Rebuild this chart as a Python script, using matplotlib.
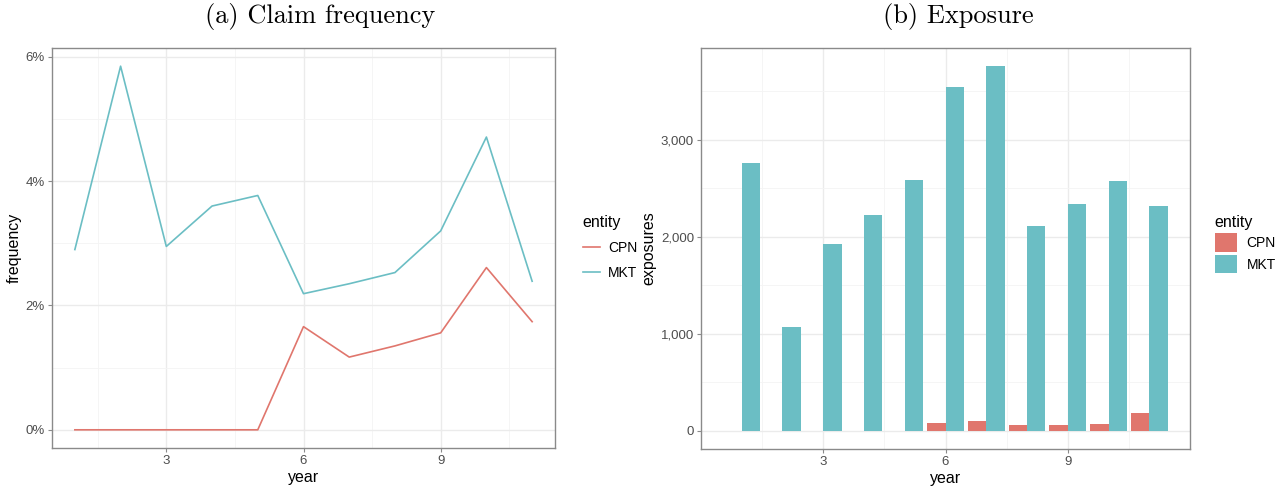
import numpy as np
import matplotlib.pyplot as plt
from matplotlib.ticker import FuncFormatter, MultipleLocator

plt.rcParams['font.family'] = ['Liberation Sans', 'DejaVu Sans']

years = np.arange(1, 12)
entities = ["CPN", "MKT"]

# claim frequency (%)
freq_cpn = [0, 0, 0, 0, 0, 1.66, 1.17, 1.35, 1.56, 2.61, 1.74]
freq_mkt = [2.90, 5.85, 2.95, 3.60, 3.77, 2.19, 2.35, 2.53, 3.20, 4.71, 2.39]

# exposures
exp_cpn = [0, 0, 0, 0, 0, 79, 100, 62, 62, 72, 182]
exp_mkt = [2754, 1064, 1921, 2222, 2579, 3539, 3755, 2109, 2332, 2572, 2319]

col_cpn = "#E0766D"
col_mkt = "#6BBEC4"
grid_major = "#EBEBEB"
grid_minor = "#F4F4F4"
frame_col = "#8A8A8A"
tick_col = "#4D4D4D"

fig = plt.figure(figsize=(12.86, 4.88), dpi=100)
W, H = 1286, 488
ax1 = fig.add_axes([52 / W, (H - 448) / H, 503 / W, 400 / H])
ax2 = fig.add_axes([701 / W, (H - 449) / H, 489 / W, 401 / H])


def style(ax):
    ax.set_facecolor("white")
    ax.grid(True, which="major", color=grid_major, lw=1.0, zorder=0)
    ax.grid(True, which="minor", color=grid_minor, lw=0.6, zorder=0)
    ax.set_axisbelow(True)
    for s in ax.spines.values():
        s.set_color(frame_col)
        s.set_linewidth(1.0)
    ax.tick_params(which="major", length=3, width=0.8, color=frame_col,
                   labelcolor=tick_col, labelsize=9.5, pad=2)
    ax.tick_params(which="minor", length=0)
    ax.xaxis.set_major_locator(MultipleLocator(3))
    ax.xaxis.set_minor_locator(MultipleLocator(1.5))
    ax.set_xlabel("year", fontsize=11.5, labelpad=2)


# (a) claim frequency
style(ax1)
ax1.plot(years, freq_cpn, color=col_cpn, lw=1.2, label="CPN", zorder=3)
ax1.plot(years, freq_mkt, color=col_mkt, lw=1.2, label="MKT", zorder=3)
ax1.set_xlim(0.5, 11.5)
ax1.set_ylim(-0.2925, 6.1425)
ax1.yaxis.set_major_locator(MultipleLocator(2))
ax1.yaxis.set_minor_locator(MultipleLocator(1))
ax1.yaxis.set_major_formatter(FuncFormatter(lambda v, p: f"{v:.0f}%"))
ax1.set_ylabel("frequency", fontsize=11.5, labelpad=3)
leg1 = ax1.legend(title="entity", loc="upper left", bbox_to_anchor=(1.03, 0.615),
                  frameon=False, fontsize=10, title_fontsize=11.5,
                  handlelength=1.25, handletextpad=0.6, labelspacing=0.8,
                  alignment="left")

# (b) exposure
style(ax2)
w = 0.45
ax2.bar(years - w / 2, exp_cpn, width=w, color=col_cpn, label="CPN", zorder=3)
ax2.bar(years + w / 2, exp_mkt, width=w, color=col_mkt, label="MKT", zorder=3)
ax2.set_xlim(0.005, 11.995)
ax2.set_ylim(-188, 3943)
ax2.yaxis.set_major_locator(MultipleLocator(1000))
ax2.yaxis.set_minor_locator(MultipleLocator(500))
ax2.yaxis.set_major_formatter(FuncFormatter(lambda v, p: f"{v:,.0f}"))
ax2.set_ylabel("exposures", fontsize=11.5, labelpad=3)
leg2 = ax2.legend(title="entity", loc="upper left", bbox_to_anchor=(1.025, 0.615),
                  frameon=False, fontsize=10, title_fontsize=11.5,
                  handlelength=1.6, handleheight=1.65, labelspacing=0.25,
                  handletextpad=0.7, alignment="left")

fig.text(320 / W, 1 - 16 / H, "(a) Claim frequency", family="cmr10",
         fontsize=19, ha="center", va="center")
fig.text(958 / W, 1 - 16 / H, "(b) Exposure", family="cmr10",
         fontsize=19, ha="center", va="center")

fig.savefig("out.png", dpi=100)
